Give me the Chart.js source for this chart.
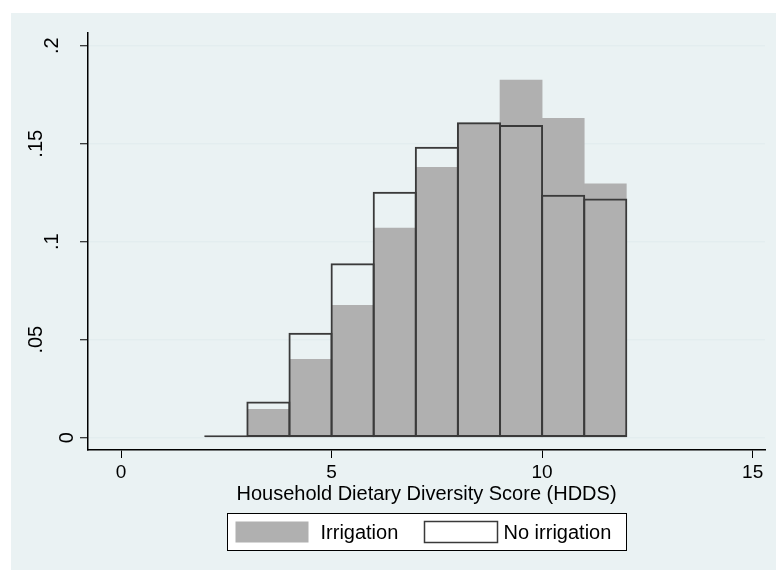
<!DOCTYPE html>
<html>
<head>
<meta charset="utf-8">
<title>HDDS histogram</title>
<script src="https://cdn.jsdelivr.net/npm/chart.js@4.4.0/dist/chart.umd.min.js"></script>
<style>
  html, body { margin: 0; padding: 0; background: #fff; }
  #wrap { position: absolute; left: 11px; top: 13px; width: 765px; height: 557px; background: #eaf2f3; }
</style>
</head>
<body>
<div id="wrap"><canvas id="hddsChart" width="765" height="557"></canvas></div>
<script>
// histogram bins (width 1), centre of each bin
const binCenters = [2.5, 3.5, 4.5, 5.5, 6.5, 7.5, 8.5, 9.5, 10.5, 11.5];
const irrigation = [0.0005, 0.0145, 0.040, 0.0675, 0.107, 0.138, 0.1605, 0.1825, 0.163, 0.1295];
const noIrrigation = [0.0012, 0.0185, 0.0535, 0.089, 0.1255, 0.1485, 0.161, 0.1595, 0.124, 0.122];
const seriesNames = ["Irrigation", "No irrigation"];
const xTicks = [0, 5, 10, 15];
const yTicks = [0, 0.05, 0.1, 0.15, 0.2];
const yTickLabels = ["0", ".05", ".1", ".15", ".2"];
const xTitle = "Household Dietary Diversity Score (HDDS)";

const FONT = "Arial, 'Liberation Sans', sans-serif";
const GRAY = "#b0b0b0";
const OUTLINE = "#3a3a3a";

// stata style rotated y labels + boxed legend
const stataExtras = {
  id: "stataExtras",
  afterDraw(chart) {
    const ctx = chart.ctx;
    const yScale = chart.scales.y;
    ctx.save();
    ctx.fillStyle = "#000";
    ctx.font = "20px " + FONT;
    ctx.textAlign = "center";
    ctx.textBaseline = "alphabetic";
    yTicks.forEach((v, i) => {
      const txt = yTickLabels[i];
      const py = yScale.getPixelForValue(v);
      const bx = 62 - 15.5 * (txt.length - 1);
      ctx.save();
      ctx.translate(bx, py);
      ctx.rotate(-Math.PI / 2);
      ctx.fillText(txt, 0, 0);
      ctx.restore();
    });

    // legend box
    const ca = chart.chartArea;
    const boxW = 399, boxH = 37;
    const left = Math.round((ca.left + ca.right) / 2 - boxW / 2) + 0.5;
    const top = 500.5;
    ctx.fillStyle = "#fff";
    ctx.fillRect(left, top, boxW, boxH);
    ctx.strokeStyle = "#000";
    ctx.lineWidth = 1;
    ctx.strokeRect(left, top, boxW, boxH);

    const midY = top + boxH / 2;
    ctx.fillStyle = GRAY;
    ctx.fillRect(left + 8, midY - 10.5, 73, 21);
    ctx.fillStyle = "#fff";
    ctx.fillRect(left + 197, midY - 10.5, 73, 21);
    ctx.strokeStyle = OUTLINE;
    ctx.lineWidth = 1.5;
    ctx.strokeRect(left + 197, midY - 10.5, 73, 21);

    ctx.fillStyle = "#000";
    ctx.textAlign = "left";
    ctx.textBaseline = "middle";
    ctx.font = "20px " + FONT;
    ctx.fillText(seriesNames[0], left + 93, midY + 1);
    ctx.fillText(seriesNames[1], left + 276, midY + 1);
    ctx.restore();
  }
};

const ctx = document.getElementById("hddsChart");

const hddsChart = new Chart(ctx, {
  type: "bar",
  data: {
    datasets: [
      {
        label: seriesNames[0],
        data: binCenters.map((x, i) => ({ x: x, y: irrigation[i] })),
        backgroundColor: GRAY,
        borderWidth: 0,
        barPercentage: 1,
        order: 2,
      },
      {
        label: seriesNames[1],
        data: binCenters.map((x, i) => ({ x: x, y: noIrrigation[i] })),
        backgroundColor: "rgba(0,0,0,0)",
        borderColor: OUTLINE,
        borderWidth: 2,
        borderSkipped: false,
        // a touch wider so the inset borders of neighbours overlap into one line
        barPercentage: 1.047,
        order: 1,
      },
    ],
  },
  options: {
    responsive: false,
    animation: false,
    grouped: false,
    categoryPercentage: 1,
    layout: { padding: { top: 20, right: 11, bottom: 60, left: 0 } },
    plugins: {
      legend: { display: false },
      tooltip: { enabled: false },
    },
    scales: {
      x: {
        type: "linear",
        offset: false,
        min: -0.784,
        max: 15.293,
        afterBuildTicks: (s) => { s.ticks = xTicks.map((v) => ({ value: v })); },
        afterFit: (s) => { s.height = 60; },
        grid: { offset: false, drawOnChartArea: false, drawTicks: true, tickLength: 8, tickColor: "#000", tickWidth: 1 },
        border: { display: true, color: "#000", width: 1.5 },
        ticks: { color: "#000", font: { family: FONT, size: 19 }, padding: 3, maxRotation: 0, autoSkip: false },
        title: {
          display: true,
          text: xTitle,
          color: "#000",
          font: { family: FONT, size: 20 },
          padding: { top: 0, bottom: 4 },
        },
      },
      y: {
        min: -0.00628,
        max: 0.2065,
        afterBuildTicks: (s) => { s.ticks = yTicks.map((v) => ({ value: v })); },
        afterFit: (s) => { s.width = 77; },
        grid: { color: "#e3edef", lineWidth: 1.5, drawTicks: true, tickLength: 8, tickColor: "#000", tickWidth: 1 },
        border: { display: true, color: "#000", width: 1.5 },
        ticks: { display: false },
      },
    },
  },
  plugins: [stataExtras],
});
</script>
</body>
</html>
